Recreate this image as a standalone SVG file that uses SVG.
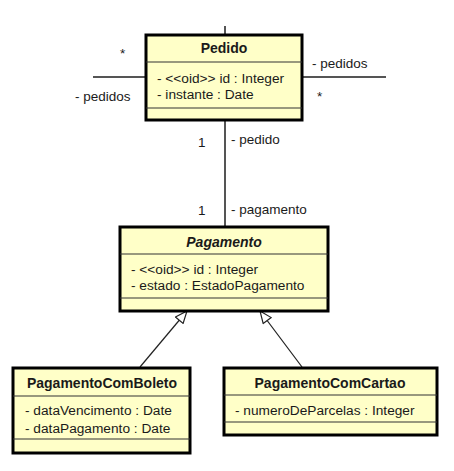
<svg xmlns="http://www.w3.org/2000/svg" width="454" height="471" viewBox="0 0 454 471">
<style>
text{font-family:"Liberation Sans",Arial,sans-serif;fill:#1a1a1a}
.box{fill:#FFFFC8;stroke:#000;stroke-width:3}
.sep{stroke:#333;stroke-width:1.2}
.title{font-size:14px;font-weight:bold;text-anchor:middle}
.attr{font-size:13.7px}
.lbl{font-size:13.5px}
.assoc{stroke:#555;stroke-width:2;fill:none}
.gen{stroke:#222;stroke-width:1.2;fill:none}
</style>
<defs>
<marker id="tri" viewBox="0 0 14 12" refX="13" refY="6" markerWidth="14" markerHeight="12" markerUnits="userSpaceOnUse" orient="auto">
<path d="M1,1 L13,6 L1,11 Z" fill="#fff" stroke="#222" stroke-width="1.2"/>
</marker>
</defs>
<rect width="454" height="471" fill="#fff"/>
<g id="connectors">
<line class="assoc" x1="225" y1="26" x2="225" y2="35"/>
<line class="assoc" x1="93" y1="77" x2="146" y2="77"/>
<line class="assoc" x1="302" y1="77" x2="386" y2="77"/>
<line class="assoc" x1="225" y1="120" x2="225" y2="227"/>
<line class="gen" x1="140" y1="367" x2="187" y2="311" marker-end="url(#tri)"/>
<line class="gen" x1="302" y1="367" x2="260" y2="311" marker-end="url(#tri)"/>
<text class="lbl" x="120" y="58">*</text>
<text class="lbl" x="75" y="101">- pedidos</text>
<text class="lbl" x="312" y="68">- pedidos</text>
<text class="lbl" x="317" y="101">*</text>
<text class="lbl" x="198" y="147">1</text>
<text class="lbl" x="231" y="144">- pedido</text>
<text class="lbl" x="198" y="215">1</text>
<text class="lbl" x="231" y="214">- pagamento</text>
</g>
<g id="Pedido">
<rect class="box" x="146" y="35" width="156" height="85"/>
<line class="sep" x1="146" y1="62" x2="302" y2="62"/>
<line class="sep" x1="146" y1="108" x2="302" y2="108"/>
<text class="title" x="224" y="53">Pedido</text>
<text class="attr" x="157" y="83">- &lt;&lt;oid&gt;&gt; id : Integer</text>
<text class="attr" x="157" y="99">- instante : Date</text>
</g>
<g id="Pagamento">
<rect class="box" x="120" y="227" width="208" height="84"/>
<line class="sep" x1="120" y1="254" x2="328" y2="254"/>
<line class="sep" x1="120" y1="298" x2="328" y2="298"/>
<text class="title" x="224" y="247" font-style="italic">Pagamento</text>
<text class="attr" x="131" y="274">- &lt;&lt;oid&gt;&gt; id : Integer</text>
<text class="attr" x="131" y="290">- estado : EstadoPagamento</text>
</g>
<g id="PagamentoComBoleto">
<rect class="box" x="13" y="368" width="177" height="85"/>
<line class="sep" x1="13" y1="396" x2="190" y2="396"/>
<line class="sep" x1="13" y1="439" x2="190" y2="439"/>
<text class="title" x="102" y="388">PagamentoComBoleto</text>
<text class="attr" x="25" y="415">- dataVencimento : Date</text>
<text class="attr" x="25" y="433">- dataPagamento : Date</text>
</g>
<g id="PagamentoComCartao">
<rect class="box" x="224" y="368" width="213" height="67"/>
<line class="sep" x1="224" y1="395" x2="437" y2="395"/>
<line class="sep" x1="224" y1="422" x2="437" y2="422"/>
<text class="title" x="330" y="388">PagamentoComCartao</text>
<text class="attr" x="235" y="415">- numeroDeParcelas : Integer</text>
</g>
</svg>
